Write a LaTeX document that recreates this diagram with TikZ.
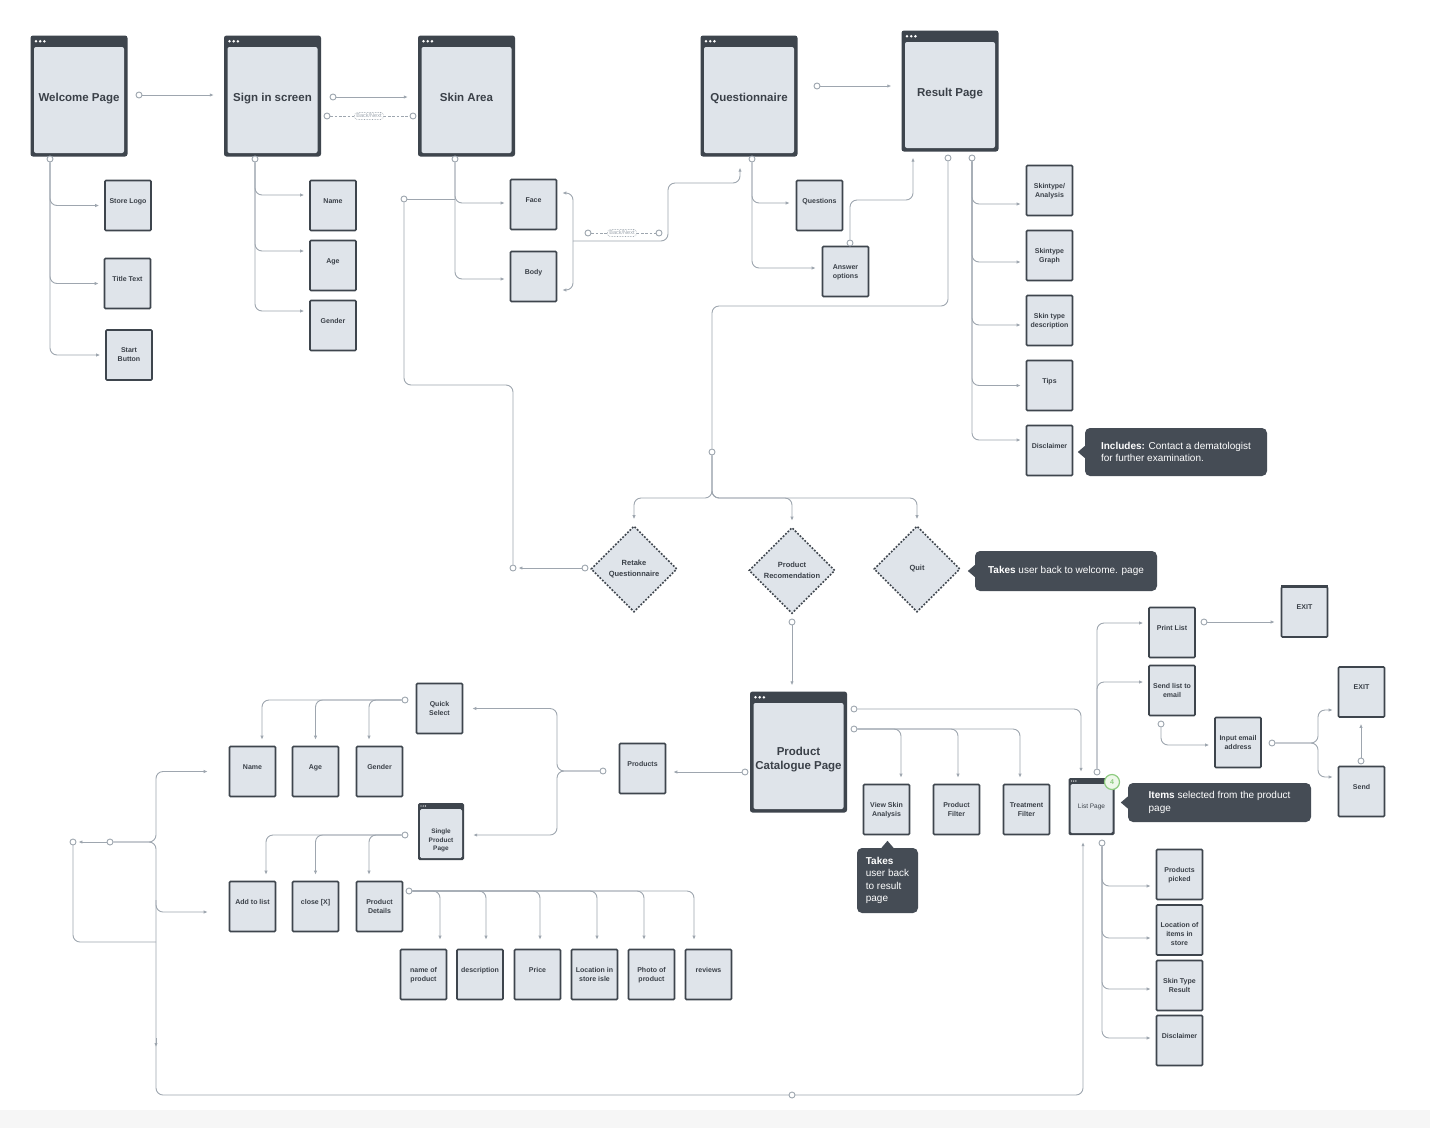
\documentclass[tikz,border=0pt]{standalone}
\usepackage{fontspec}
\setmainfont{Liberation Sans}
\usetikzlibrary{arrows.meta,shapes.geometric,calc}

\definecolor{frameC}{HTML}{3E454D}
\definecolor{boxC}{HTML}{DFE4EA}
\definecolor{lineC}{HTML}{9EA6AF}
\definecolor{textC}{HTML}{3A4048}
\definecolor{noteC}{HTML}{454C55}
\definecolor{badgeC}{HTML}{8CCB7E}
\definecolor{badgeF}{HTML}{EEF8EA}

\tikzset{
  pagewin/.style={rectangle, rounded corners=2.5pt, fill=frameC,
    minimum width=97pt, minimum height=121pt, inner sep=0pt, text=textC,
    font=\fontsize{11.5}{14}\selectfont\bfseries, align=center,
    text height=14pt, text depth=2.5pt,
    path picture={
      \fill[boxC, rounded corners=2pt]
        ([shift={(3.5pt,3.5pt)}]path picture bounding box.south west) rectangle
        ([shift={(-3.5pt,-11.5pt)}]path picture bounding box.north east);
      \foreach \i in {0,1,2}
        \fill[white] ([shift={(5.5pt+\i*4.2pt,-5.8pt)}]path picture bounding box.north west) circle (1.4pt);
    }},
  pagetxt/.style={text=textC, font=\fontsize{11.5}{14}\selectfont\bfseries, align=center, inner sep=0pt},
  winsmall/.style={rectangle, rounded corners=1.5pt, fill=frameC,
    minimum width=46pt, minimum height=57pt, inner sep=0pt,
    path picture={
      \fill[boxC]
        ([shift={(2pt,2pt)}]path picture bounding box.south west) rectangle
        ([shift={(-2pt,-6pt)}]path picture bounding box.north east);
      \foreach \i in {0,1,2}
        \fill[white] ([shift={(3pt+\i*2.2pt,-3pt)}]path picture bounding box.north west) circle (0.7pt);
    }},
  sbox/.style={rectangle, draw=frameC, line width=1.7pt, fill=boxC,
    minimum width=46pt, minimum height=50pt, inner sep=0pt, rounded corners=1pt},
  stxt/.style={text=textC, font=\fontsize{7}{9}\selectfont\bfseries, align=center, inner sep=0pt},
  dia/.style={diamond, aspect=1, minimum size=86pt, inner sep=0pt, fill=boxC,
    draw=frameC, line width=1.6pt, dash pattern=on 1.8pt off 1.6pt, text=textC,
    font=\fontsize{7.5}{10.5}\selectfont\bfseries, align=center},
  note/.style={rectangle, rounded corners=5pt, fill=noteC, text=white,
    font=\fontsize{10}{12.5}\selectfont, align=left, inner sep=0pt},
  bnlbl/.style={draw=lineC, line width=0.6pt, densely dotted, rounded corners=3pt,
    fill=white, text=lineC, font=\fontsize{5.5}{6}\selectfont, inner xsep=2pt, inner ysep=1.5pt},
  dot/.style={circle, draw=lineC, line width=0.9pt, fill=white, minimum size=6pt, inner sep=0pt},
  wire/.style={draw=lineC, line width=0.9pt, rounded corners=7pt},
  arr/.style={wire, -{Latex[length=4pt,width=3.4pt]}, shorten >=#1},
  arr/.default=5pt,
  backnext/.style={wire, dash pattern=on 2.5pt off 1.8pt},
}

% small labelled box: name, x, y, text
\newcommand\sbx[4]{%
  \node[sbox] (#1) at (#2,#3) {};
  \node[stxt, anchor=north] (#1-t) at ([yshift=-18.5pt]#1.north) {#4};}

\begin{document}
\begin{tikzpicture}[x=1pt, y=-1pt]
\fill[white] (0,0) rectangle (1430,1128);
\useasboundingbox (0,0) rectangle (1430,1128);
\fill[gray!7] (0,1110) rectangle (1430,1128);

% ---------- screens ----------
\node[pagewin] (welcome)  at (79,96)    {Welcome Page};
\node[pagewin] (signin)   at (272.5,96) {Sign in screen};
\node[pagewin] (skinarea) at (466.5,96) {Skin Area};
\node[pagewin] (quest)    at (749,96)   {Questionnaire};
\node[pagewin] (result)   at (950,91)   {Result Page};
\node[pagewin] (catalog)  at (798.5,752) {};
\node[pagetxt] (catalog-t) at (798.5,760) {Product\\Catalogue Page};

% ---------- screen contents ----------
\sbx{storelogo}{128}{205.5}{Store Logo}
\sbx{titletext}{127.5}{283.5}{Title Text}
\sbx{startbtn}{129}{355}{Start\\Button}
\sbx{sname}{333}{205.5}{Name}
\sbx{sage}{333}{265.5}{Age}
\sbx{sgender}{333}{325.5}{Gender}
\sbx{face}{533.5}{204.5}{Face}
\sbx{body}{533.5}{276.5}{Body}
\sbx{questions}{819.5}{205.5}{Questions}
\sbx{answers}{845.5}{271.5}{Answer\\options}
\sbx{skintype}{1049.5}{190.5}{Skintype/\\Analysis}
\sbx{graph}{1049.5}{255.5}{Skintype\\Graph}
\sbx{desc}{1049.5}{320.5}{Skin type\\description}
\sbx{tips}{1049.5}{385.5}{Tips}
\sbx{rdisc}{1049.5}{450.5}{Disclaimer}

\sbx{products}{642.5}{768.5}{Products}
\sbx{quick}{439.5}{708.5}{Quick\\Select}
\sbx{pname}{252.5}{771.5}{Name}
\sbx{pagefld}{315.5}{771.5}{Age}
\sbx{pgender}{379.5}{771.5}{Gender}
\sbx{addlist}{252.5}{906.5}{Add to list}
\sbx{closex}{315.5}{906.5}{close [X]}
\sbx{details}{379.5}{906.5}{Product\\Details}
\sbx{nameof}{423.5}{974.5}{name of\\product}
\sbx{descr}{480}{974.5}{description}
\sbx{price}{537.5}{974.5}{Price}
\sbx{isle}{594.5}{974.5}{Location in\\store isle}
\sbx{photo}{651.5}{974.5}{Photo of\\product}
\sbx{reviews}{708.5}{974.5}{reviews}
\sbx{viewskin}{886.5}{809.5}{View Skin\\Analysis}
\sbx{pfilter}{956.5}{809.5}{Product\\Filter}
\sbx{tfilter}{1026.5}{809.5}{Treatment\\Filter}
\sbx{print}{1172}{632.5}{Print List}
\sbx{sendlist}{1172}{690.5}{Send list to\\email}
\sbx{exitone}{1304.5}{612}{EXIT}
\draw[frameC, line width=3pt] ([xshift=0.8pt]exitone.north west) -- ([xshift=-0.8pt]exitone.north east);
\sbx{email}{1238}{742.5}{Input email\\address}
\sbx{exittwo}{1361.5}{692}{EXIT}
\sbx{send}{1361.5}{791.5}{Send}
\sbx{picked}{1179.5}{874.5}{Products\\picked}
\sbx{location}{1179.5}{930}{Location of\\items in\\store}
\sbx{sktres}{1179.5}{985.5}{Skin Type\\Result}
\sbx{ldisc}{1179.5}{1040.5}{Disclaimer}

\node[winsmall] (single) at (441,831.5) {};
\node[stxt, font=\fontsize{6.5}{8.5}\selectfont\bfseries] (single-t) at (441,840.5) {Single\\Product\\Page};
\node[winsmall] (listpage) at (1091.5,806.5) {};
\node[stxt, font=\fontsize{6.5}{8}\selectfont] (listpage-t) at (1091.5,807) {List Page};
\node[circle, draw=badgeC, fill=badgeF, line width=1.2pt, minimum size=15pt, inner sep=0pt,
  text=badgeC, font=\fontsize{7}{8}\selectfont\bfseries] (badge) at (1112,782) {4};

% ---------- decisions ----------
\node[dia] (retake)  at (634,569)   {Retake\\Questionnaire};
\node[dia] (prodrec) at (792,570.5) {Product\\Recomendation};
\node[dia] (quit)    at (917,569)   {Quit};

% ---------- notes ----------
\node[note, minimum width=182pt, minimum height=48pt] (call1) at (1176,452)
  {\textbf{Includes:} Contact a dematologist\\for further examination.};
\fill[noteC] ([yshift=6pt]call1.west) -- ([xshift=-7pt]call1.west) -- ([yshift=-6pt]call1.west) -- cycle;
\node[note, minimum width=182pt, minimum height=40pt] (call2) at (1066,571)
  {\textbf{Takes} user back to welcome. page};
\fill[noteC] ([yshift=6pt]call2.west) -- ([xshift=-7pt]call2.west) -- ([yshift=-6pt]call2.west) -- cycle;
\node[note, minimum width=61pt, minimum height=65pt, font=\fontsize{10}{12.3}\selectfont] (call3) at (887.5,880.5)
  {\textbf{Takes}\\user back\\to result\\page};
\fill[noteC] ([xshift=-6pt]call3.north) -- ([yshift=7pt]call3.north) -- ([xshift=6pt]call3.north) -- cycle;
\node[note, minimum width=183pt, minimum height=39pt] (call4) at (1219.5,802.5)
  {\textbf{Items} selected from the product\\page};
\fill[noteC] ([yshift=6pt]call4.west) -- ([xshift=-7pt]call4.west) -- ([yshift=-6pt]call4.west) -- cycle;

% ---------- back/next labels ----------
\node[bnlbl] (bn1) at (369,116) {Back/Next};
\node[bnlbl] (bn2) at (622,233) {Back/Next};

% ---------- connector start points ----------
\node[dot] (dw)  at (139,95) {};
\node[dot] (ds1) at (333,97) {};
\node[dot] (ds2) at (327,116) {};
\node[dot] (ds3) at (413,116) {};
\node[dot] (dq)  at (817,86) {};
\node[dot] (dwc) at (50,159) {};
\node[dot] (dsc) at (255,159) {};
\node[dot] (dsa) at (455,159) {};
\node[dot] (dra) at (404,199) {};
\node[dot] (drb) at (513,568) {};
\node[dot] (drt) at (585,568) {};
\node[dot] (db1) at (588,233) {};
\node[dot] (db2) at (659,233) {};
\node[dot] (dqc) at (752,159) {};
\node[dot] (dao) at (850,243) {};
\node[dot] (dr1) at (948,158) {};
\node[dot] (dr2) at (972,158) {};
\node[dot] (dmid) at (712,452) {};
\node[dot] (dpr) at (792,622) {};
\node[dot] (dcp) at (745,772) {};
\node[dot] (dpq) at (603,771) {};
\node[dot] (dqs) at (405,700) {};
\node[dot] (dsp) at (405,835) {};
\node[dot] (dpd) at (409,891) {};
\node[dot] (dl1) at (110,842) {};
\node[dot] (dl2) at (73,842) {};
\node[dot] (dcl) at (854,709) {};
\node[dot] (dcf) at (854,729) {};
\node[dot] (dlp) at (1097,772) {};
\node[dot] (dpe) at (1204,622) {};
\node[dot] (dse) at (1161,724) {};
\node[dot] (dem) at (1272,743) {};
\node[dot] (dsx) at (1361,761) {};
\node[dot] (dlc) at (1102,843) {};

% ---------- top flow ----------
\draw[arr=10pt] (dw) -- (dw -| signin.west);
\draw[arr=10pt] (ds1) -- (ds1 -| skinarea.west);
\draw[backnext] (ds2) -- (bn1) -- (ds3);
\draw[arr=10pt] (dq) -- (dq -| result.west);

\foreach \t in {storelogo,titletext,startbtn} \draw[arr] (dwc) |- (\t.west);

\draw[arr] (dsc) |- ([yshift=10.5pt]sname.west);
\draw[arr] (dsc) |- ([yshift=14.5pt]sage.west);
\draw[arr] (dsc) |- ([yshift=14.5pt]sgender.west);

\draw[arr] (dsa) |- ([yshift=1.5pt]face.west);
\draw[arr] (dsa) |- ([yshift=-2.5pt]body.west);

% retake loop back to the skin area
\draw[arr=2pt] (drt) -- (drb);
\draw[wire] (drb) -- (513,385) -- (404,385) -- (dra);
\draw[wire] (dra) -- (455,199);

% face / body to questionnaire
\coordinate (fb) at (573,241);
\draw[arr] (fb) |- ([yshift=11.5pt]face.east);
\draw[arr] (fb) |- ([yshift=-13.5pt]body.east);
\draw[arr=11pt] (fb) -- (668,241) -- (668,183) -- (740,183) -- ([xshift=-9pt]quest.south);
\draw[backnext] (db1) -- (bn2) -- (db2);

\draw[arr=6pt] (dqc) |- ([yshift=2.5pt]questions.west);
\draw[arr=6pt] (dqc) |- ([yshift=3.5pt]answers.west);
\draw[arr=6pt] (dao) -- (850,200) -- (913,200) -- ([xshift=-37pt]result.south);

% result to the three choices
\draw[wire] (dr1) -- (948,306) -- (712,306) -- (dmid);
\draw[arr=6pt] (dmid) -- (712,498) -| (retake.north);
\draw[arr=6pt] (dmid) -- (712,498) -| (prodrec.north);
\draw[arr=6pt] (dmid) -- (712,498) -| (quit.north);

\draw[arr] (dr2) |- ([yshift=-13.5pt]skintype.west);
\draw[arr] (dr2) |- ([yshift=-6.5pt]graph.west);
\draw[arr] (dr2) |- ([yshift=-4.5pt]desc.west);
\draw[arr] (dr2) |- (tips.west);
\draw[arr] (dr2) |- ([yshift=10.5pt]rdisc.west);

% ---------- product catalogue ----------
\draw[arr=6pt] (dpr) -- (dpr |- catalog.north);
\draw[arr=7pt] (dcp) -- (dcp -| products.east);
\draw[arr=9pt] (dpq) -- (557,771) |- (quick.east);
\draw[arr=9pt] (dpq) -- (557,771) |- ([yshift=-3.5pt]single.east);

\draw[arr=6pt] (dqs) -| ([xshift=9.5pt]pname.north);
\draw[arr=6pt] (dqs) -| (pagefld.north);
\draw[arr=6pt] (dqs) -| ([xshift=-10.5pt]pgender.north);

\draw[arr=6pt] (dsp) -| ([xshift=13.5pt]addlist.north);
\draw[arr=6pt] (dsp) -| (closex.north);
\draw[arr=6pt] (dsp) -| ([xshift=-10.5pt]details.north);

\foreach \n/\s in {nameof/16.5pt, descr/6pt, price/2.5pt, isle/2.5pt, photo/-7.5pt, reviews/-14.5pt}
  \draw[arr=9pt] (dpd) -| ([xshift=\s]\n.north);

% left bracket and the long return to the list page
\draw[arr=21pt] (dl1) -- (156,842) |- (pname.west);
\draw[arr=21pt] (dl1) -- (156,842) |- ([yshift=-5.5pt]addlist.west);
\draw[arr=2pt] (dl1) -- (dl2);
\draw[wire] (dl2) -- (73,942) -- (156,942);
\draw[arr=7pt] (156,900) -- (156,1095) -- (1083,1095) -- ([xshift=-8.5pt]listpage.south);
\draw[draw=lineC, line width=0.9pt, -{Latex[length=4pt,width=3.4pt]}] (156,1038) -- (156,1047);
\node[dot] (dbot) at (792,1095) {};

\draw[arr=6pt] (dcl) -| ([xshift=-10.5pt]listpage.north);
\draw[arr=6pt] (dcf) -| ([xshift=14.5pt]viewskin.north);
\draw[arr=6pt] (dcf) -| ([xshift=1.5pt]pfilter.north);
\draw[arr=6pt] (dcf) -| ([xshift=-6.5pt]tfilter.north);

% ---------- list page ----------
\draw[arr] (dlp) |- ([yshift=9.5pt]print.west);
\draw[arr] (dlp) |- ([yshift=8.5pt]sendlist.west);
\draw[arr=6pt] (dpe) -- (dpe -| exitone.west);
\draw[arr] (dse) |- ([yshift=-2.5pt]email.west);
\draw[arr] (dem) -- (1318,743) |- ([yshift=-18pt]exittwo.west);
\draw[arr] (dem) -- (1318,743) |- ([yshift=14.5pt]send.west);
\draw[arr=6pt] (dsx) -- (dsx |- exittwo.south);

\draw[arr] (dlc) |- ([yshift=-11.5pt]picked.west);
\draw[arr] (dlc) |- ([yshift=-8pt]location.west);
\draw[arr] (dlc) |- ([yshift=-3.5pt]sktres.west);
\draw[arr] (dlc) |- ([yshift=2.5pt]ldisc.west);
\end{tikzpicture}
\end{document}
